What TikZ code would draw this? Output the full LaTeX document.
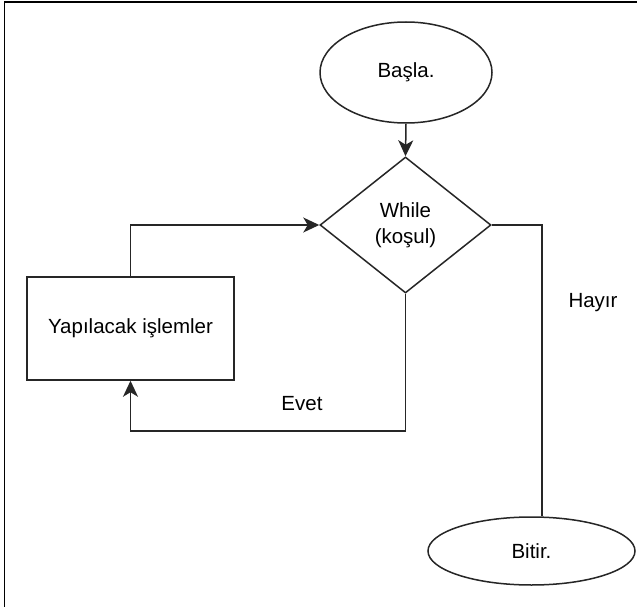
\documentclass[tikz,border=0pt]{standalone}
\usepackage{fontspec}
\setmainfont{Liberation Sans}
\usetikzlibrary{shapes.geometric,arrows.meta}

\tikzset{
  flowline/.style={line width=1.5pt, draw=black!85},
  flowarrow/.style={flowline, -{Stealth[length=16pt, width=15pt, inset=4.5pt]}},
  terminal/.style={ellipse, flowline, inner sep=0pt, font=\fontsize{20.5}{24}\selectfont},
  decision/.style={diamond, flowline, inner sep=0pt, align=center, font=\fontsize{20.5}{26}\selectfont},
  process/.style={rectangle, flowline, inner sep=0pt, font=\fontsize{20.5}{24}\selectfont},
  tag/.style={inner sep=0pt, font=\fontsize{20.5}{24}\selectfont}
}

\begin{document}
\begin{tikzpicture}[x=1pt, y=-1pt]
  \useasboundingbox (0,0) rectangle (637,607);
  \fill[white] (0,0) rectangle (637,607);

  % outer frame (top and left edges)
  \draw[line width=1.8pt, black] (4.5,607) -- (4.5,2) -- (637,2);

  % nodes
  \node[terminal, minimum width=172pt, minimum height=101pt] (start) at (406,72.5) {Başla.};
  \node[decision, minimum width=171pt, minimum height=136pt] (cond) at (405.5,225) {While\\(koşul)};
  \node[process, minimum width=207pt, minimum height=103pt] (work) at (130.5,328.5) {Yapılacak işlemler};
  \node[terminal, minimum width=207pt, minimum height=68pt] (finish) at (531.5,551) {Bitir.};

  % bend points
  \coordinate (yesbend) at (405.5,431);
  \coordinate (nobend) at (542,225);

  % labels
  \node[tag] (yeslabel) at (302,404) {Evet};
  \node[tag] (nolabel) at (593,303) {Hayır};

  % connectors
  \draw[flowarrow] (start.south) -- (cond.north);
  \draw[flowarrow] (work.north) |- (cond.west);
  \draw[flowarrow] (cond.south) -- (yesbend) -| (work.south);
  \draw[flowline] (cond.east) -- (nobend) -- (nobend |- finish.north);
\end{tikzpicture}
\end{document}
